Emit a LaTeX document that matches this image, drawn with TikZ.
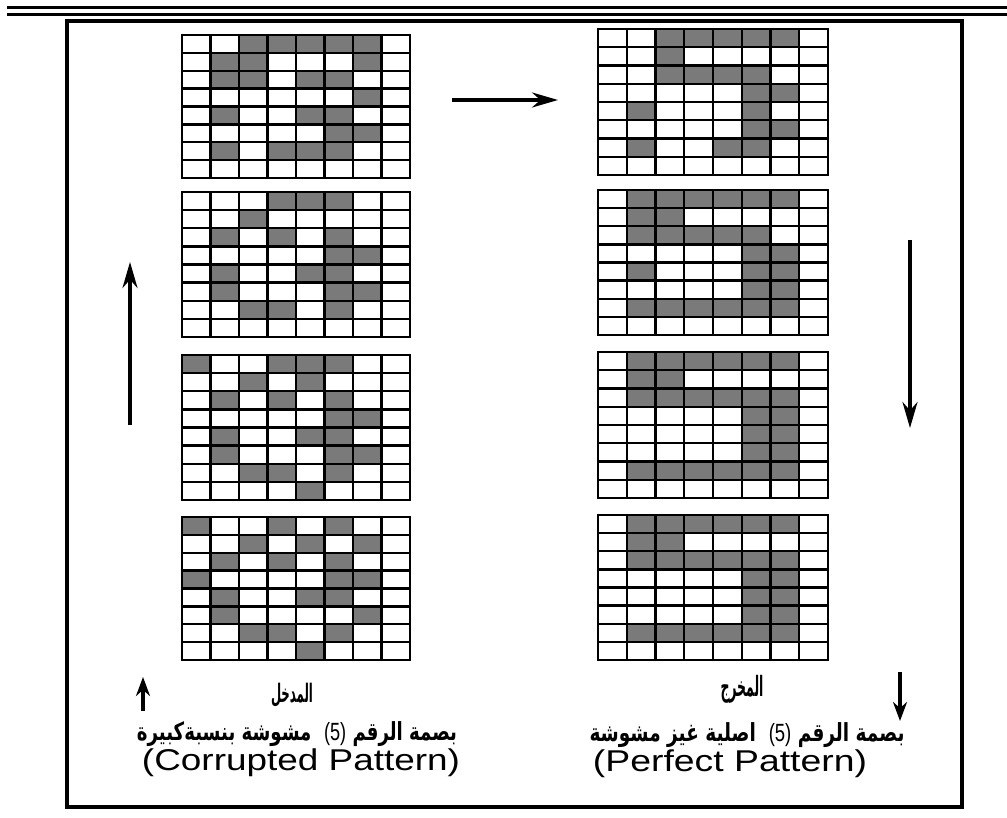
\documentclass[tikz,border=0pt]{standalone}
\usepackage{graphicx}
\usepackage{fontspec}
\setmainfont{Liberation Sans}
\newfontfamily\arabicfont[Script=Arabic]{DejaVu Sans}
\TeXXeTstate=1
\usetikzlibrary{arrows.meta}
\tikzset{
  cellfill/.style={fill=black!52},
  gridline/.style={line width=2.4pt,black},
  gridframe/.style={line width=2.8pt,black},
  flowarrow/.style={line width=3.4pt,-{Stealth[length=26pt,width=15pt]}},
  smallarrow/.style={line width=3.2pt,-{Stealth[length=19pt,width=14pt]}},
  txt/.style={inner sep=0pt},
}
\newcommand\cellgrid[5]{%
  \pgfmathsetmacro\cw{(#3-#1)/8}%
  \pgfmathsetmacro\ch{(#4-#2)/8}%
  \foreach \r/\c in {#5}{%
    \fill[cellfill] ({#1+\c*\cw},{#2+\r*\ch}) rectangle ++(\cw,\ch);
  }%
  \foreach \i in {1,...,7}{%
    \draw[gridline] ({#1+\i*\cw},#2) -- ({#1+\i*\cw},#4);
    \draw[gridline] (#1,{#2+\i*\ch}) -- (#3,{#2+\i*\ch});
  }%
  \draw[gridframe] (#1,#2) rectangle (#3,#4);
}
\begin{document}
\begin{tikzpicture}[x=1pt,y=-1pt]
\useasboundingbox (0,0) rectangle (1007,818);
\fill[white] (0,0) rectangle (1007,818);
% top double rule
\draw[line width=3pt] (7,7.5) -- (1007,7.5);
\draw[line width=3pt] (7,14.5) -- (1007,14.5);
% frame
\draw[line width=4pt] (67,21) rectangle (962,807);

% left column (corrupted)
\cellgrid{182}{35}{410}{178}{0/2,0/3,0/4,0/5,0/6,1/1,1/2,1/6,2/1,2/2,2/4,2/5,3/6,4/1,4/4,4/5,5/5,5/6,6/1,6/3,6/4,6/5}
\cellgrid{182}{192}{410}{337}{0/3,0/4,0/5,1/2,2/1,2/3,2/5,3/5,3/6,4/1,4/4,4/5,5/1,5/5,5/6,6/2,6/3,6/5}
\cellgrid{182}{355}{410}{500}{0/0,0/3,0/4,0/5,1/2,1/4,2/1,2/3,2/5,3/5,3/6,4/1,4/4,4/5,5/1,5/5,5/6,6/2,6/3,6/5,7/4}
\cellgrid{182}{517}{410}{660}{0/0,0/3,0/5,1/2,1/4,1/6,2/1,2/3,2/5,3/0,3/5,3/6,4/1,4/4,4/5,5/1,5/6,6/2,6/3,6/5,7/4}

% right column (perfect)
\cellgrid{598}{29}{828}{175}{0/2,0/3,0/4,0/5,0/6,1/2,2/2,2/3,2/4,2/5,3/5,3/6,4/1,4/5,5/5,5/6,6/1,6/4,6/5}
\cellgrid{598}{190}{828}{335}{0/1,0/2,0/3,0/4,0/5,0/6,1/1,1/2,2/1,2/2,2/3,2/4,2/5,3/5,3/6,4/1,4/5,4/6,5/5,5/6,6/1,6/2,6/3,6/4,6/5,6/6}
\cellgrid{598}{352}{828}{498}{0/1,0/2,0/3,0/4,0/5,0/6,1/1,1/2,2/1,2/2,2/3,2/4,2/5,2/6,3/5,3/6,4/5,4/6,5/5,5/6,6/1,6/2,6/3,6/4,6/5,6/6}
\cellgrid{598}{515}{828}{660}{0/1,0/2,0/3,0/4,0/5,0/6,1/1,1/2,2/1,2/2,2/3,2/4,2/5,2/6,3/5,3/6,4/5,4/6,5/5,5/6,6/1,6/2,6/3,6/4,6/5,6/6}

% arrows
\coordinate (hA) at (452,100);
\coordinate (hB) at (558,100);
\coordinate (lA) at (130,425);
\coordinate (lB) at (130,262);
\coordinate (rA) at (910,240);
\coordinate (rB) at (910,428);
\coordinate (slA) at (143,711);
\coordinate (slB) at (143,677);
\coordinate (srA) at (900,672);
\coordinate (srB) at (900,721);
\draw[flowarrow] (hA) -- (hB);
\draw[flowarrow] (lA) -- (lB);
\draw[flowarrow] (rA) -- (rB);
\draw[smallarrow] (slA) -- (slB);
\draw[smallarrow] (srA) -- (srB);

% labels
\node[txt] (inlbl) at (292,695) {\resizebox*{42pt}{24pt}{\arabicfont\bfseries\fontsize{24}{28}\selectfont\beginR المدخل\endR}};
\node[txt] (outlbl) at (742,689) {\resizebox*{43pt}{28pt}{\arabicfont\bfseries\fontsize{24}{28}\selectfont\beginR المخرج\endR}};
\node[txt] (incap) at (297,734) {\resizebox*{320pt}{25pt}{\arabicfont\bfseries\fontsize{24}{28}\selectfont\beginR بصمة الرقم {\normalfont (5)}\ \ مشوشة بنسبةكبيرة\endR}};
\node[txt] (outcap) at (747,735) {\resizebox*{315pt}{25pt}{\arabicfont\bfseries\fontsize{24}{28}\selectfont\beginR بصمة الرقم {\normalfont (5)}\ \ اصلية غيز مشوشة\endR}};
% english
\node[txt] (inen) at (301,763) {\resizebox*{318pt}{28pt}{\fontsize{30}{34}\selectfont (Corrupted Pattern)}};
\node[txt] (outen) at (730,764) {\resizebox*{274pt}{28pt}{\fontsize{30}{34}\selectfont (Perfect Pattern)}};
\end{tikzpicture}
\end{document}
